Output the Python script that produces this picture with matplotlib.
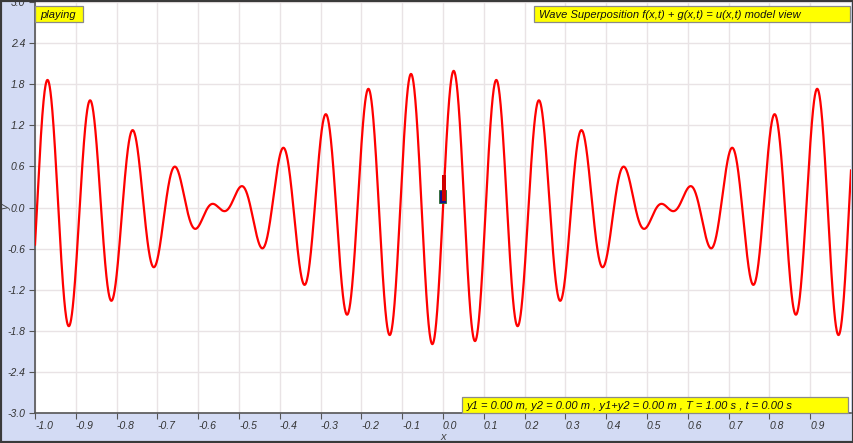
import matplotlib
matplotlib.use("Agg")
import matplotlib.pyplot as plt
from matplotlib.patches import Rectangle
import numpy as np

# model parameters read from the view: two unit waves, t = 0
amplitudes = [1.0, 1.0]          # m
wavelengths = [0.10, 0.11]       # m
period_T = 1.0                   # s
t_now = 0.0                      # s
probe_x = 0.0                    # position of the probe marker

x_ticks = [-1.0, -0.9, -0.8, -0.7, -0.6, -0.5, -0.4, -0.3, -0.2, -0.1,
           0.0, 0.1, 0.2, 0.3, 0.4, 0.5, 0.6, 0.7, 0.8, 0.9]
y_ticks = [-3.0, -2.4, -1.8, -1.2, -0.6, 0.0, 0.6, 1.2, 1.8, 2.4, 3.0]

status_text = "playing"
title_text = "Wave Superposition f(x,t) + g(x,t) = u(x,t) model view"

plt.rcParams["font.family"] = ["Liberation Sans", "DejaVu Sans"]


def wave(x, amp, lam, t):
    return amp * np.sin(2 * np.pi * (x / lam - t / period_T))


x = np.linspace(-1.0, 1.0, 4000)
f = wave(x, amplitudes[0], wavelengths[0], t_now)
g = wave(x, amplitudes[1], wavelengths[1], t_now)
u = f + g

y1 = wave(probe_x, amplitudes[0], wavelengths[0], t_now)
y2 = wave(probe_x, amplitudes[1], wavelengths[1], t_now)
info_text = (f"y1 = {abs(y1):.2f} m, y2 = {abs(y2):.2f} m , y1+y2 = {abs(y1 + y2):.2f} m , "
             f"T = {period_T:.2f} s , t = {t_now:.2f} s")

W, H = 854, 443
L, R, T, B = 35, 851, 2, 413       # plot area in pixels
fig = plt.figure(figsize=(W / 100, H / 100), dpi=100, facecolor="#d3dbf4")
ax = fig.add_axes([L / W, (H - B) / H, (R - L) / W, (B - T) / H])
ax.set_facecolor("white")
ax.set_xlim(-1.0, 1.0)
ax.set_ylim(-3.0, 3.0)

ax.set_xticks(x_ticks)
ax.set_yticks(y_ticks)
ax.set_xticklabels([f"{v:.1f}" for v in x_ticks], fontsize=7.5, style="italic",
                   color="#333333", ha="left")
ax.set_yticklabels([f"{v:.1f}" for v in y_ticks], fontsize=7.5, style="italic", color="#333333")
ax.tick_params(length=4, width=0.8, color="#555555", pad=3)
ax.tick_params(axis="x", pad=2)
ax.grid(True, color="#e9e3e5", linewidth=1.0)
ax.set_axisbelow(True)

for side in ["top", "right"]:
    ax.spines[side].set_visible(False)
for side in ["left", "bottom"]:
    ax.spines[side].set_color("#555555")
    ax.spines[side].set_linewidth(1.2)

fig.text(443 / W, 1 - 437 / H, "x", fontsize=8, style="italic", color="#444444",
         ha="center", va="center")
fig.text(7 / W, 1 - 207 / H, "y", fontsize=8, style="italic", color="#444444",
         ha="center", va="center", rotation=90)

ax.plot(x, u, color="#ff0000", linewidth=1.6, zorder=3)

# probe marker at x = probe_x
ax.add_patch(Rectangle((probe_x - 0.011, y1 + y2 + 0.06), 0.019, 0.2,
                       facecolor="#14148c", edgecolor="#2a6a2a", linewidth=0.6, zorder=4))
ax.add_patch(Rectangle((probe_x - 0.002, y1 + y2 + 0.1), 0.009, 0.38,
                       facecolor="#d00000", edgecolor="none", zorder=5))


def label_box(px0, py0, px1, py1, text):
    # yellow box given in pixel corners, text left aligned inside
    fx0 = (px0 - L) / (R - L)
    fx1 = (px1 - L) / (R - L)
    fy0 = (B - py1) / (B - T)
    fy1 = (B - py0) / (B - T)
    ax.add_patch(Rectangle((fx0, fy0), fx1 - fx0, fy1 - fy0, transform=ax.transAxes,
                           facecolor="#ffff00", edgecolor="#8a8a8a", linewidth=0.9,
                           zorder=6, clip_on=False))
    ax.text(fx0 + 5 / (R - L), (fy0 + fy1) / 2, text, transform=ax.transAxes,
            fontsize=8, style="italic", color="#111111", ha="left", va="center_baseline",
            zorder=7)


label_box(35, 6, 83, 22, status_text)
label_box(534, 6, 850, 22, title_text)
label_box(462, 397, 848, 413, info_text)

# dark frame around the whole view
fig.patches.append(Rectangle((0, 0), 1, 1, transform=fig.transFigure, fill=False,
                             edgecolor="#3a3a3a", linewidth=3))

fig.savefig("out.png", dpi=100, facecolor=fig.get_facecolor())
